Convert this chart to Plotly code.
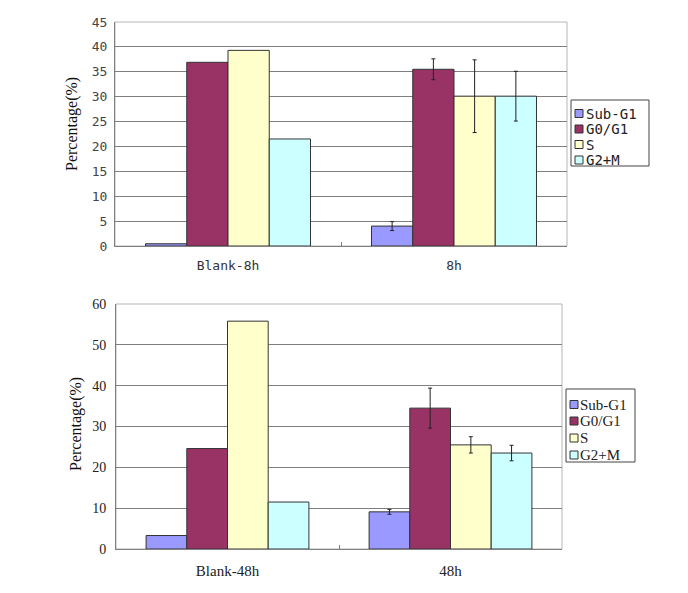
import plotly.graph_objects as go

# page body has an 8px default margin, so the figure is drawn 8px in
W, H = 688, 593
OFF = 8
FW, FH = W - OFF, H - OFF

phases = ["Sub-G1", "G0/G1", "S", "G2+M"]
colors = ["#9999FF", "#993366", "#FFFFCC", "#CCFFFF"]

top_groups = ["Blank-8h", "8h"]
top_values = {
    "Sub-G1": [0.45, 4.0],
    "G0/G1": [36.9, 35.5],
    "S": [39.3, 30.1],
    "G2+M": [21.5, 30.1],
}
# error bars exist only for the treated group (None = no error bar)
top_errors = {
    "Sub-G1": [None, 0.9],
    "G0/G1": [None, 2.1],
    "S": [None, 7.3],
    "G2+M": [None, 5.0],
}
top_ticks = [0, 5, 10, 15, 20, 25, 30, 35, 40, 45]

bot_groups = ["Blank-48h", "48h"]
bot_values = {
    "Sub-G1": [3.3, 9.1],
    "G0/G1": [24.6, 34.5],
    "S": [55.8, 25.5],
    "G2+M": [11.5, 23.5],
}
bot_errors = {
    "Sub-G1": [None, 0.6],
    "G0/G1": [None, 4.9],
    "S": [None, 2.0],
    "G2+M": [None, 1.9],
}
bot_ticks = [0, 10, 20, 30, 40, 50, 60]

ytitle = "Percentage(%)"

MONO = "DejaVu Sans Mono"
SERIF = "Liberation Serif"


def xp(px):
    return (px - OFF) / FW


def yp(py):
    return 1 - (py - OFF) / FH


fig = go.Figure()


def add_bars(groups, values, errors, xa, ya, suffix):
    for name, col in zip(phases, colors):
        for g, v, e in zip(groups, values[name], errors[name]):
            err = dict(type="data", array=[e], visible=True,
                       color="#222222", thickness=1, width=2) if e is not None \
                else dict(visible=False)
            fig.add_trace(go.Bar(
                x=[g], y=[v], name=name, offsetgroup=name + suffix,
                marker=dict(color=col, line=dict(color="#333333", width=1)),
                error_y=err, xaxis=xa, yaxis=ya, showlegend=False,
            ))


add_bars(top_groups, top_values, top_errors, "x", "y", "_top")
add_bars(bot_groups, bot_values, bot_errors, "x2", "y2", "_bot")

fig.update_layout(
    width=FW, height=FH,
    margin=dict(l=0, r=0, t=0, b=0),
    paper_bgcolor="white", plot_bgcolor="white",
    barmode="group", bargap=0.27, bargroupgap=0,
    showlegend=False,
    xaxis=dict(domain=[xp(115), xp(567)], anchor="y", type="category",
               categoryorder="array", categoryarray=top_groups,
               automargin=False,
               showline=True, linecolor="#808080", linewidth=1,
               ticks="inside", tickson="boundaries", ticklen=4,
               tickcolor="#808080", showgrid=False, zeroline=False,
               tickfont=dict(family=MONO, size=13, color="#333333"),
               ticklabelstandoff=7),
    yaxis=dict(domain=[yp(246), yp(22)], anchor="x", range=[0, 45],
               automargin=False,
               tickvals=top_ticks, showgrid=True, gridcolor="#7f7f7f",
               gridwidth=1, showline=True, linecolor="#808080",
               ticks="", zeroline=False,
               tickfont=dict(family=MONO, size=13, color="#444444"),
               ticklabelstandoff=4),
    xaxis2=dict(domain=[xp(116), xp(562)], anchor="y2", type="category",
                categoryorder="array", categoryarray=bot_groups,
                automargin=False,
                showline=True, linecolor="#808080", linewidth=1,
                ticks="inside", tickson="boundaries", ticklen=4,
                tickcolor="#808080", showgrid=False, zeroline=False,
                tickfont=dict(family=SERIF, size=15, color="#222222"),
                ticklabelstandoff=8),
    yaxis2=dict(domain=[yp(549), yp(304)], anchor="x2", range=[0, 60],
                automargin=False,
                tickvals=bot_ticks, showgrid=True, gridcolor="#7f7f7f",
                gridwidth=1, showline=True, linecolor="#808080",
                ticks="", zeroline=False,
                tickfont=dict(family=SERIF, size=14, color="#222222"),
                ticklabelstandoff=6),
)

# light plot frames (top/right edges)
for xr, yr in (("x domain", "y domain"), ("x2 domain", "y2 domain")):
    fig.add_shape(type="rect", xref=xr, yref=yr, x0=0, x1=1, y0=0, y1=1,
                  line=dict(color="#b5b5b5", width=1), layer="below")

# y-axis titles
fig.add_annotation(text=ytitle, xref="paper", yref="paper",
                   x=xp(72), y=yp(124), textangle=-90, showarrow=False,
                   xanchor="center", yanchor="middle",
                   font=dict(family=SERIF, size=16, color="#111111"))
fig.add_annotation(text=ytitle, xref="paper", yref="paper",
                   x=xp(76), y=yp(424), textangle=-90, showarrow=False,
                   xanchor="center", yanchor="middle",
                   font=dict(family=SERIF, size=16, color="#111111"))


def add_legend(box, ys, mark_x, mark_size, text_x, family, size):
    x0, y0, x1, y1 = box
    fig.add_shape(type="rect", xref="paper", yref="paper",
                  x0=xp(x0), x1=xp(x1), y0=yp(y1), y1=yp(y0),
                  line=dict(color="#444444", width=1), fillcolor="white")
    for name, col, cy in zip(phases, colors, ys):
        h = mark_size / 2
        fig.add_shape(type="rect", xref="paper", yref="paper",
                      x0=xp(mark_x), x1=xp(mark_x + mark_size),
                      y0=yp(cy + h), y1=yp(cy - h),
                      line=dict(color="#333333", width=1), fillcolor=col)
        fig.add_annotation(text=name, xref="paper", yref="paper",
                           x=xp(text_x), y=yp(cy), xanchor="left",
                           yanchor="middle", showarrow=False,
                           font=dict(family=family, size=size, color="#222222"))


add_legend((571, 100, 649, 166), [113.5, 129, 144.5, 160], 575, 8, 584,
           MONO, 14)
add_legend((566, 389, 635, 462), [404.5, 421, 438, 455], 570, 8, 578,
           SERIF, 15)

fig.write_html("out.html")
